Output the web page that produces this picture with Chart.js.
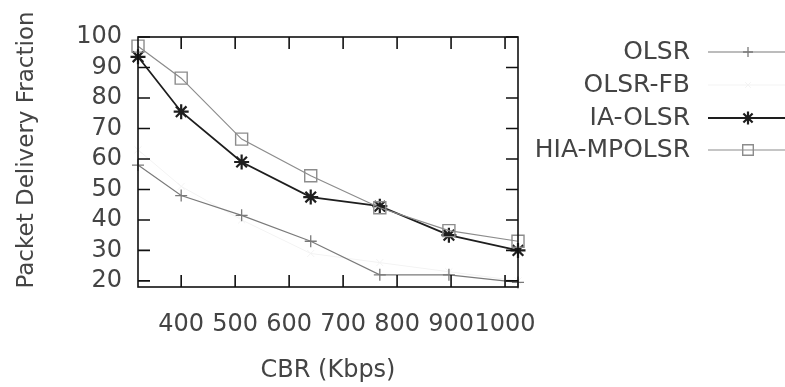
<!DOCTYPE html>
<html>
<head>
<meta charset="utf-8">
<script src="https://cdn.jsdelivr.net/npm/chart.js@4.4.1/dist/chart.umd.min.js"></script>
<style>
  body { margin: 0; background: #fff; }
  #wrap { width: 785px; height: 387px; position: relative; }
</style>
</head>
<body>
<div id="wrap"><canvas id="pdfChart"></canvas></div>
<script>
// CBR values (Kbps) and packet delivery fraction per protocol
const cbr = [320, 400, 512, 640, 768, 896, 1024];
const olsr = [58, 48, 41.5, 33, 22, 22, 19.5];
const olsrFb = [63, 51, 40, 29, 26, 23, 20];
const iaOlsr = [93.5, 75.5, 59, 47.5, 44.5, 35, 30];
const hiaMpolsr = [97, 86.5, 66.5, 54.5, 44, 36.5, 33];

const seriesNames = ['OLSR', 'OLSR-FB', 'IA-OLSR', 'HIA-MPOLSR'];
const xTicks = [400, 500, 600, 700, 800, 900, 1000];
const yTicks = [20, 30, 40, 50, 60, 70, 80, 90, 100];

const FONT = 'DejaVu Sans';
const pts = (ys) => cbr.map((x, i) => ({ x: x, y: ys[i] }));

// axis box, inward mirrored ticks, titles and gnuplot-style key
const frame = {
  id: 'frame',
  afterDraw(chart) {
    const { ctx, chartArea: a, scales } = chart;
    ctx.save();
    ctx.strokeStyle = '#111';
    ctx.lineWidth = 1.6;
    ctx.strokeRect(a.left, a.top, a.right - a.left, a.bottom - a.top);
    const t = 12;
    ctx.beginPath();
    xTicks.forEach(v => {
      const px = scales.x.getPixelForValue(v);
      ctx.moveTo(px, a.bottom); ctx.lineTo(px, a.bottom - t);
      ctx.moveTo(px, a.top); ctx.lineTo(px, a.top + t);
    });
    yTicks.forEach(v => {
      const py = scales.y.getPixelForValue(v);
      ctx.moveTo(a.left, py); ctx.lineTo(a.left + t, py);
      ctx.moveTo(a.right, py); ctx.lineTo(a.right - t, py);
    });
    ctx.stroke();

    ctx.fillStyle = '#444';
    ctx.font = '24px "' + FONT + '"';
    ctx.textAlign = 'center';
    ctx.textBaseline = 'alphabetic';
    ctx.fillText('CBR (Kbps)', (a.left + a.right) / 2, 377);
    ctx.save();
    ctx.translate(33, 150);
    ctx.rotate(-Math.PI / 2);
    ctx.font = '23px "' + FONT + '"';
    ctx.fillText('Packet Delivery Fraction', 0, 0);
    ctx.restore();

    // key
    const rows = [52, 85, 118, 150];
    ctx.font = '25px "' + FONT + '"';
    chart.data.datasets.forEach((ds, i) => {
      const y = rows[i];
      ctx.fillStyle = '#444';
      ctx.textAlign = 'right';
      ctx.textBaseline = 'middle';
      ctx.fillText(ds.label, 690, y);
      ctx.strokeStyle = ds.borderColor;
      ctx.lineWidth = ds.borderWidth;
      ctx.beginPath();
      ctx.moveTo(708, y); ctx.lineTo(785, y);
      ctx.stroke();
      ctx.lineWidth = ds.pointBorderWidth;
      ctx.fillStyle = 'rgba(0,0,0,0)';
      Chart.helpers.drawPoint(ctx, { pointStyle: ds.pointStyle, radius: ds.pointRadius - 1, borderWidth: ds.pointBorderWidth, rotation: 0 }, 748, y);
    });
    ctx.restore();
  }
};

const ctx = document.getElementById('pdfChart').getContext('2d');

new Chart(ctx, {
  type: 'line',
  data: {
    datasets: [
      { label: seriesNames[0], data: pts(olsr), borderColor: '#7a7a7a', borderWidth: 1.2,
        pointStyle: 'cross', pointRadius: 6, pointBorderWidth: 1.3, order: 4 },
      { label: seriesNames[1], data: pts(olsrFb), borderColor: '#f3f3f3', borderWidth: 1,
        pointStyle: 'crossRot', pointRadius: 5, pointBorderWidth: 1, order: 5 },
      { label: seriesNames[2], data: pts(iaOlsr), borderColor: '#1e1e1e', borderWidth: 1.8,
        pointStyle: 'star', pointRadius: 7.5, pointBorderWidth: 2.2, order: 3 },
      { label: seriesNames[3], data: pts(hiaMpolsr), borderColor: '#8c8c8c', borderWidth: 1.2,
        pointStyle: 'rect', pointRadius: 8.5, pointBorderWidth: 1.4, order: 2 }
    ].map(d => Object.assign(d, {
      backgroundColor: 'rgba(0,0,0,0)',
      pointBorderColor: d.borderColor,
      pointBackgroundColor: 'rgba(0,0,0,0)',
      tension: 0,
      clip: false
    }))
  },
  options: {
    responsive: true,
    maintainAspectRatio: false,
    animation: false,
    layout: { padding: { left: 0, right: 267, top: 37, bottom: 0 } },
    plugins: { legend: { display: false }, tooltip: { enabled: false } },
    scales: {
      x: {
        type: 'linear',
        min: 320,
        max: 1024,
        afterBuildTicks: s => { s.ticks = xTicks.map(v => ({ value: v })); },
        afterFit: s => { s.height = 100; },
        ticks: { color: '#444', font: { family: FONT, size: 24 }, padding: 23,
                 maxRotation: 0, autoSkip: false, callback: v => String(v) },
        grid: { drawOnChartArea: false, drawTicks: false },
        border: { display: false }
      },
      y: {
        min: 18,
        max: 100,
        afterBuildTicks: s => { s.ticks = yTicks.map(v => ({ value: v })); },
        afterFit: s => { s.width = 138; },
        ticks: { color: '#444', font: { family: FONT, size: 24 }, padding: 16,
                 autoSkip: false, callback: v => String(v) },
        grid: { drawOnChartArea: false, drawTicks: false },
        border: { display: false }
      }
    }
  },
  plugins: [frame]
});
</script>
</body>
</html>
